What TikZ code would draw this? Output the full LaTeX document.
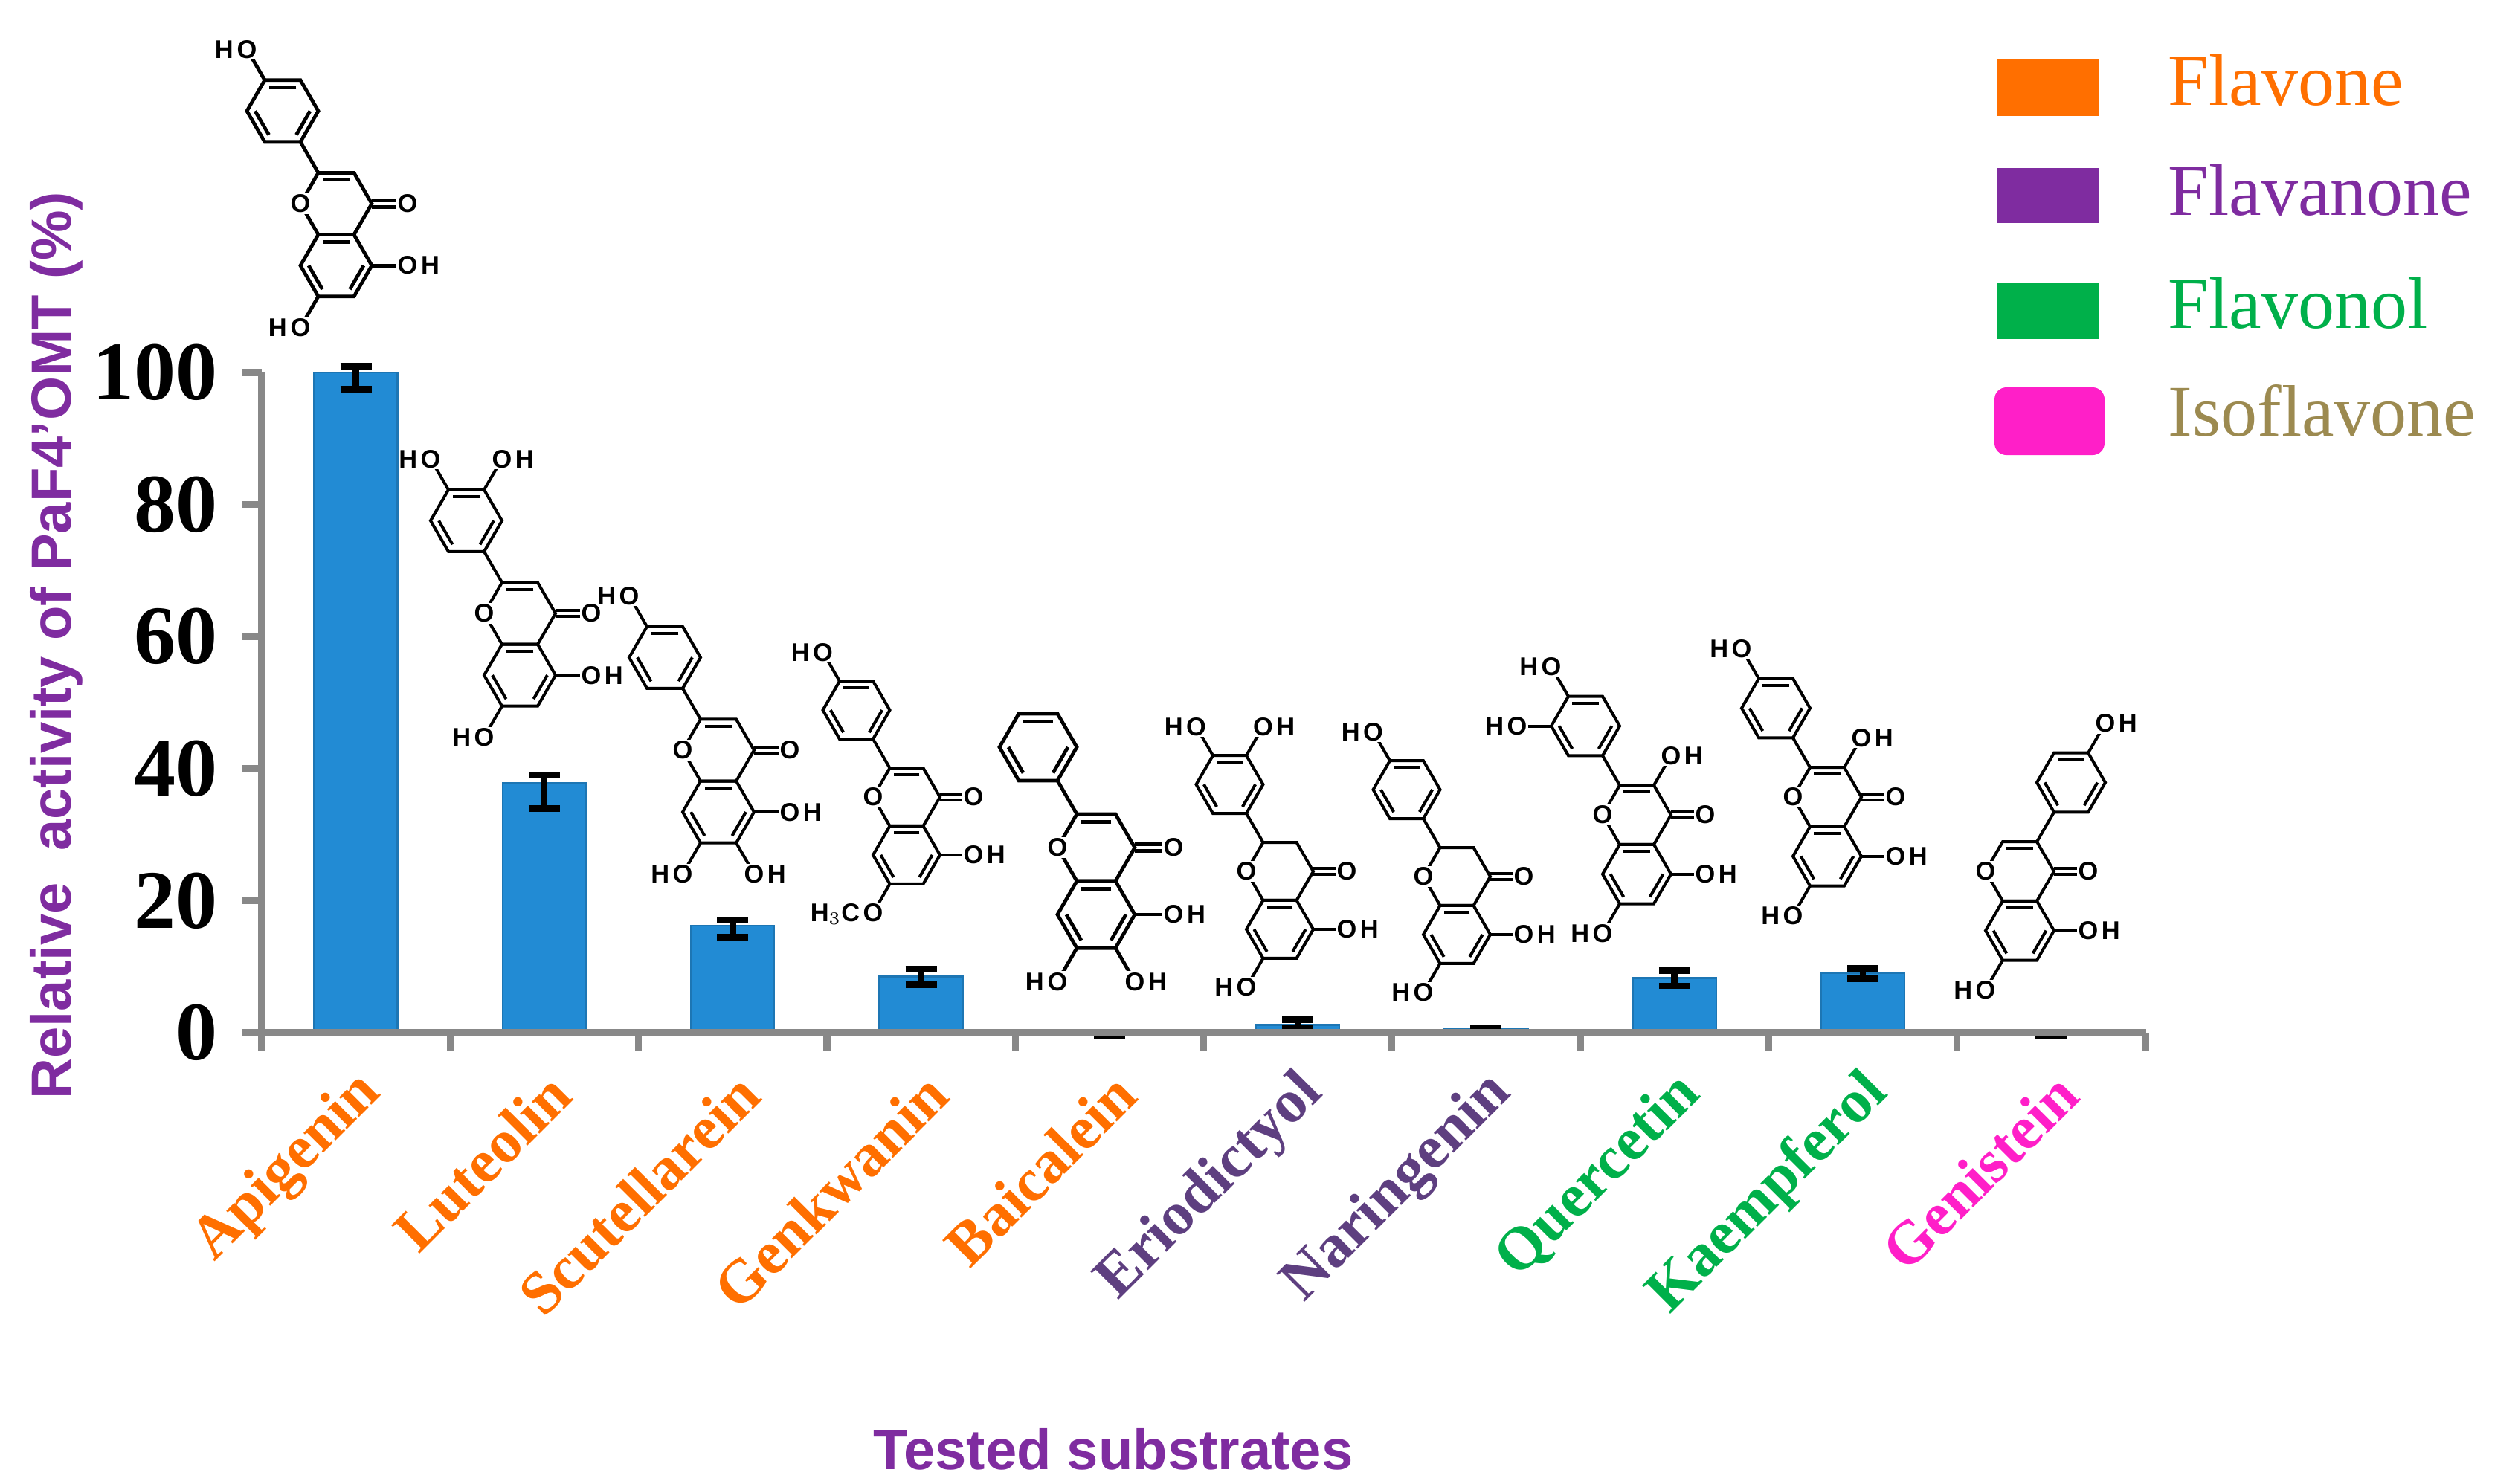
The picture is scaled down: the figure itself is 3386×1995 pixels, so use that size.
\documentclass[tikz,border=0pt]{standalone}
\usepackage{fontspec}
\setmainfont{Liberation Serif}
\setsansfont{Liberation Sans}
\usetikzlibrary{calc}
\definecolor{orng}{HTML}{FF6F00}
\definecolor{purp}{HTML}{7F2CA0}
\definecolor{dpurp}{HTML}{5E3F80}
\definecolor{grn}{HTML}{00B04A}
\definecolor{mag}{HTML}{FF1FC8}
\definecolor{olive}{HTML}{9C8A50}
\definecolor{barblue}{HTML}{228BD4}
\definecolor{axgray}{HTML}{888888}
\tikzset{
 bond/.style={line width=1pt,line join=miter},
 atom/.style={fill=white,inner sep=0.4pt,font=\sffamily\bfseries\fontsize{8.6}{9}\selectfont},
 hatom/.style={inner sep=0pt,font=\sffamily\bfseries\fontsize{8.6}{9}\selectfont},
 err/.style={line width=2.2pt,black},
 axisline/.style={line width=2.3pt,axgray},
 ticklab/.style={font=\bfseries\fontsize{28}{30}\selectfont,anchor=east,inner sep=0pt},
 catlab/.style={font=\bfseries\fontsize{20.5}{22}\selectfont,rotate=45,anchor=east,inner sep=0pt},
 legtext/.style={font=\fontsize{24.5}{26}\selectfont,anchor=base west,inner sep=0pt},
 axtitle/.style={font=\sffamily\bfseries\fontsize{19}{20}\selectfont,purp,inner sep=0pt}
}
\newcommand\hexring[1]{\draw[bond] ($(#1)+(0:1)$) -- ($(#1)+(60:1)$) -- ($(#1)+(120:1)$) -- ($(#1)+(180:1)$) -- ($(#1)+(240:1)$) -- ($(#1)+(300:1)$) -- cycle;}
\newcommand\dbl[2]{\draw[bond] ($(#1)+(#2:0.77)$) -- ($(#1)+(#2+60:0.77)$);}
\newcommand\subOH[3]{\draw[bond] ($(#1)+(#2:1)$) -- ($(#1)+(#2:1)+(#3:1)$) node[atom] (tO) {O}; \node[hatom,anchor=base west] at (tO.base east) {H};}
\newcommand\subHO[3]{\draw[bond] ($(#1)+(#2:1)$) -- ($(#1)+(#2:1)+(#3:1)$) node[atom] (tO) {O}; \node[hatom,anchor=base east] at (tO.base west) {H};}
\newcommand\subMe[3]{\draw[bond] ($(#1)+(#2:1)$) -- ($(#1)+(#2:1)+(#3:1)$) node[atom] (tO) {O}; \node[hatom,anchor=base east] at (tO.base west) {H$_3$C};}
\newcommand\core{%
 \coordinate (C) at (0,0); \coordinate (A) at (0,-1.7320508);
 \hexring{C}\hexring{A}\dbl{A}{60}\dbl{A}{180}\dbl{A}{300}
 \draw[bond] ($(C)+(0:1)+(0,0.09)$) -- ($(C)+(0:2)+(0,0.09)$);
 \draw[bond] ($(C)+(0:1)+(0,-0.09)$) -- ($(C)+(0:2)+(0,-0.09)$);
 \node[atom] (co) at ($(C)+(0:2)$) {O};}
\newcommand\bflav{%
 \coordinate (B) at (-1.5,2.5980762); \hexring{B}\dbl{B}{60}\dbl{B}{180}\dbl{B}{300}
 \draw[bond] ($(C)+(120:1)$) -- ($(B)+(300:1)$);}
\newcommand\bisofl{%
 \coordinate (B) at (1.5,2.5980762); \hexring{B}\dbl{B}{60}\dbl{B}{180}\dbl{B}{300}
 \draw[bond] ($(C)+(60:1)$) -- ($(B)+(240:1)$);}
\newcommand\ringO{\node[atom] (o1) at ($(C)+(180:1)$) {O};}
\begin{document}
\begin{tikzpicture}[x=0.25pt,y=-0.25pt]
\useasboundingbox (0,0) rectangle (3386,1995);
% ---- bars
\foreach \i/\v/\lo/\hi in {0/100/97.5/101,1/37.8/34/39,2/16.2/14.5/17,3/8.5/7.3/9.6,4/0/-0.5/-0.5,5/1.2/0.6/2,6/0.5/0.4/0.6,7/8.3/7.1/9.4,8/9/8.2/9.7,9/0/-0.5/-0.5}{
 \pgfmathsetmacro\cx{352+253.3*(\i+0.5)}
 \pgfmathsetmacro\yv{1389-8.88*\v}
 \pgfmathsetmacro\ylo{1389-8.88*\lo}
 \pgfmathsetmacro\yhi{1389-8.88*\hi}
 \ifdim\v pt>0pt \fill[barblue,draw=barblue!85!black,line width=0.6pt] (\cx-56,1389) rectangle (\cx+56,\yv);\fi
 \draw[err] (\cx,\ylo) -- (\cx,\yhi);
 \draw[err] (\cx-21,\ylo) -- (\cx+21,\ylo);
 \draw[err] (\cx-21,\yhi) -- (\cx+21,\yhi);
}
% ---- axes
\draw[axisline] (352,501) -- (352,1389) -- (2886,1389);
\foreach \k in {0,...,5}{
 \pgfmathsetmacro\yy{1389-177.6*\k}
 \draw[axisline] (326,\yy) -- (352,\yy);
 \pgfmathtruncatemacro\lab{20*\k}
 \node[ticklab] (t\k) at (293,\yy) {\lab};
}
\foreach \k in {0,...,10}{
 \pgfmathsetmacro\xx{352+253.3*\k}
 \draw[axisline] (\xx,1389) -- (\xx,1414);
}
% ---- category labels
\foreach \i/\n/\c in {0/Apigenin/orng,1/Luteolin/orng,2/Scutellarein/orng,3/Genkwanin/orng,4/Baicalein/orng,5/Eriodictyol/dpurp,6/Naringenin/dpurp,7/Quercetin/grn,8/Kaempferol/grn,9/Genistein/mag}{
 \pgfmathsetmacro\cx{352+253.3*(\i+0.5)+22}
 \node[catlab,text=\c] (cat\i) at (\cx,1458) {\n};
}
% ---- axis titles
\node[axtitle,rotate=90] (ytitle) at (76,868) {Relative\ \ activity of PaF4'OMT (\%)};
\node[axtitle] (xtitle) at (1497,1949) {Tested substrates};
% ---- legend
\fill[orng] (2686,80) rectangle (2822,156);
\fill[purp] (2686,226) rectangle (2822,300);
\fill[grn] (2686,380) rectangle (2822,456);
\fill[mag,rounded corners=4pt] (2682,521) rectangle (2830,612);
\node[legtext,text=orng] (l1) at (2915,141) {Flavone};
\node[legtext,text=purp] (l2) at (2915,289) {Flavanone};
\node[legtext,text=grn] (l3) at (2915,441) {Flavonol};
\node[legtext,text=olive] (l4) at (2915,586) {Isoflavone};
% ---- molecules
\begin{scope}[shift={(452,274)},x=12pt,y=12pt,bond/.append style={line width=1.2pt}]
 \core\dbl{C}{60}\bflav
 \subHO{B}{120}{120}\subOH{A}{0}{0}\subHO{A}{240}{240}\ringO
\end{scope}
\begin{scope}[shift={(699,825)},x=12pt,y=12pt]
 \core\dbl{C}{60}\bflav
 \subHO{B}{120}{120}\subOH{B}{60}{60}\subOH{A}{0}{0}\subHO{A}{240}{240}\ringO
\end{scope}
\begin{scope}[shift={(966,1009)},x=12pt,y=12pt]
 \core\dbl{C}{60}\bflav
 \subHO{B}{120}{120}\subOH{A}{0}{0}\subHO{A}{240}{240}\subOH{A}{300}{300}\ringO
\end{scope}
\begin{scope}[shift={(1219,1072)},x=11.25pt,y=11.25pt]
 \core\dbl{C}{60}\bflav
 \subHO{B}{120}{120}\subOH{A}{0}{0}\subMe{A}{240}{240}\ringO
\end{scope}
\begin{scope}[shift={(1474,1140)},x=13pt,y=13pt,bond/.append style={line width=1.2pt}]
 \core\dbl{C}{60}\bflav
 \subOH{A}{0}{0}\subHO{A}{240}{240}\subOH{A}{300}{300}\ringO
\end{scope}
\begin{scope}[shift={(1721,1172)},x=11.25pt,y=11.25pt]
 \core\bflav
 \subHO{B}{120}{120}\subOH{B}{60}{60}\subOH{A}{0}{0}\subHO{A}{240}{240}\ringO
\end{scope}
\begin{scope}[shift={(1959,1179)},x=11.25pt,y=11.25pt]
 \core\bflav
 \subHO{B}{120}{120}\subOH{A}{0}{0}\subHO{A}{240}{240}\ringO
\end{scope}
\begin{scope}[shift={(2201,1096)},x=11.5pt,y=11.5pt]
 \core\dbl{C}{60}\bflav
 \subHO{B}{120}{120}\subHO{B}{180}{180}\subOH{C}{60}{60}\subOH{A}{0}{0}\subHO{A}{240}{240}\ringO
\end{scope}
\begin{scope}[shift={(2457,1072)},x=11.5pt,y=11.5pt]
 \core\dbl{C}{60}\bflav
 \subHO{B}{120}{120}\subOH{C}{60}{60}\subOH{A}{0}{0}\subHO{A}{240}{240}\ringO
\end{scope}
\begin{scope}[shift={(2716,1172)},x=11.5pt,y=11.5pt]
 \core\dbl{C}{60}\bisofl
 \subOH{B}{60}{60}\subOH{A}{0}{0}\subHO{A}{240}{240}\ringO
\end{scope}
\end{tikzpicture}
\end{document}
